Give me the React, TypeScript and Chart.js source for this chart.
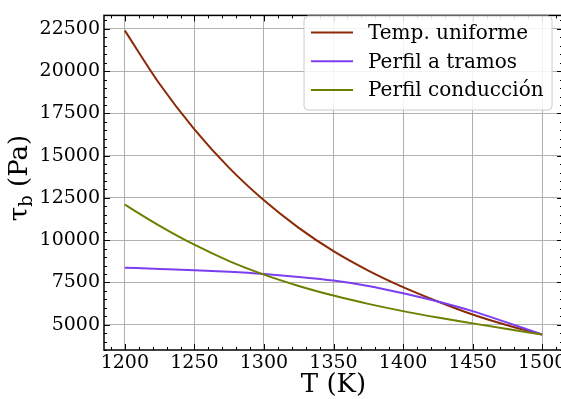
import React, { useEffect, useRef } from "react";
import { Chart, registerables } from "chart.js";

Chart.register(...registerables);

const temps = [1200, 1225, 1250, 1275, 1300, 1325, 1350, 1375, 1400, 1425, 1450, 1475, 1500];
const uniforme = [22400, 19240, 16560, 14280, 12360, 10730, 9350, 8200, 7220, 6370, 5600, 4960, 4410];
const tramos = [8370, 8300, 8225, 8125, 7995, 7825, 7610, 7290, 6860, 6370, 5800, 5120, 4420];
const conduccion = [12100, 10850, 9730, 8760, 7960, 7290, 6720, 6230, 5800, 5420, 5075, 4740, 4420];

const seriesLabels = ["Temp. uniforme", "Perfil a tramos", "Perfil conducción"];
const seriesColors = ["#8b2a05", "#7c3ff0", "#6e7f00"];

const xTicks = [1200, 1250, 1300, 1350, 1400, 1450, 1500];
const yTicks = [5000, 7500, 10000, 12500, 15000, 17500, 20000, 22500];

const FONT = "'DejaVu Serif', serif";

const ticksPlugin = {
  id: "inTicks",
  afterDraw(chart: any) {
    const ctx = chart.ctx;
    const a = chart.chartArea;
    const xs = chart.scales.x;
    const ys = chart.scales.y;
    ctx.save();
    ctx.strokeStyle = "#000";
    ctx.lineWidth = 1;
    const drawX = (v: number, len: number) => {
      const px = Math.round(xs.getPixelForValue(v)) + 0.5;
      ctx.beginPath();
      ctx.moveTo(px, a.bottom);
      ctx.lineTo(px, a.bottom - len);
      ctx.moveTo(px, a.top);
      ctx.lineTo(px, a.top + len);
      ctx.stroke();
    };
    const drawY = (v: number, len: number) => {
      const py = Math.round(ys.getPixelForValue(v)) + 0.5;
      ctx.beginPath();
      ctx.moveTo(a.left, py);
      ctx.lineTo(a.left + len, py);
      ctx.moveTo(a.right, py);
      ctx.lineTo(a.right - len, py);
      ctx.stroke();
    };
    for (let v = 1190; v <= 1510; v += 10) {
      if (v % 50 !== 0) drawX(v, 3);
    }
    xTicks.forEach((v) => drawX(v, 6));
    for (let v = 3500; v <= 23000; v += 500) {
      if (v % 2500 !== 0) drawY(v, 3);
    }
    yTicks.forEach((v) => drawY(v, 6));
    // spines
    ctx.lineWidth = 1.5;
    ctx.strokeRect(a.left, a.top, a.right - a.left, a.bottom - a.top);

    // legend
    const lx = 304, ly = 16, lw = 248, lh = 94, r = 4;
    ctx.fillStyle = "rgba(255,255,255,0.85)";
    ctx.strokeStyle = "#cccccc";
    ctx.lineWidth = 1;
    ctx.beginPath();
    ctx.moveTo(lx + r, ly);
    ctx.lineTo(lx + lw - r, ly);
    ctx.arcTo(lx + lw, ly, lx + lw, ly + r, r);
    ctx.lineTo(lx + lw, ly + lh - r);
    ctx.arcTo(lx + lw, ly + lh, lx + lw - r, ly + lh, r);
    ctx.lineTo(lx + r, ly + lh);
    ctx.arcTo(lx, ly + lh, lx, ly + lh - r, r);
    ctx.lineTo(lx, ly + r);
    ctx.arcTo(lx, ly, lx + r, ly, r);
    ctx.closePath();
    ctx.fill();
    ctx.stroke();
    ctx.font = "20px " + FONT;
    ctx.textBaseline = "middle";
    ctx.textAlign = "left";
    chart.data.datasets.forEach((ds: any, i: number) => {
      const y = 32.5 + i * 28.8;
      ctx.strokeStyle = ds.borderColor;
      ctx.lineWidth = 2;
      ctx.beginPath();
      ctx.moveTo(311, y);
      ctx.lineTo(353, y);
      ctx.stroke();
      ctx.fillStyle = "#000";
      ctx.fillText(ds.label, 368, y + 1);
    });

    // y title with subscript
    ctx.save();
    ctx.translate(27, 178);
    ctx.rotate(-Math.PI / 2);
    ctx.fillStyle = "#000";
    ctx.textBaseline = "alphabetic";
    const big = "26px " + FONT;
    const small = "18px " + FONT;
    ctx.font = big;
    const w1 = ctx.measureText("τ").width;
    ctx.font = small;
    const w2 = ctx.measureText("b").width;
    ctx.font = big;
    const w3 = ctx.measureText(" (Pa)").width;
    let x0 = -(w1 + w2 + w3) / 2;
    ctx.fillText("τ", x0, 0);
    ctx.font = small;
    ctx.fillText("b", x0 + w1, 5);
    ctx.font = big;
    ctx.fillText(" (Pa)", x0 + w1 + w2, 0);
    ctx.restore();

    // x title
    ctx.font = "26px " + FONT;
    ctx.textAlign = "center";
    ctx.textBaseline = "alphabetic";
    ctx.fillStyle = "#000";
    ctx.fillText("T (K)", (a.left + a.right) / 2, 392);
    ctx.restore();
  },
};

export default function App() {
  const ref = useRef<HTMLCanvasElement>(null);
  useEffect(() => {
    if (!ref.current) return;
    const mk = (data: number[], i: number) => ({
      label: seriesLabels[i],
      data: temps.map((t, k) => ({ x: t, y: data[k] })),
      borderColor: seriesColors[i],
      backgroundColor: seriesColors[i],
      borderWidth: 2,
      pointRadius: 0,
      cubicInterpolationMode: "monotone" as const,
      order: 2 - i,
    });
    const chart = new Chart(ref.current, {
      type: "line",
      data: {
        datasets: [mk(uniforme, 0), mk(tramos, 1), mk(conduccion, 2)],
      },
      options: {
        responsive: false,
        animation: false,
        devicePixelRatio: 1,
        layout: { padding: { top: 6, right: 7, bottom: 0, left: 0 } },
        plugins: { legend: { display: false }, tooltip: { enabled: false } },
        scales: {
          x: {
            type: "linear",
            min: 1185,
            max: 1515,
            afterBuildTicks: (s: any) => {
              s.ticks = xTicks.map((v) => ({ value: v }));
            },
            afterFit: (s: any) => {
              s.height = 49;
              s.paddingLeft = 0;
              s.paddingRight = 0;
            },
            grid: { color: "#b0b0b0", lineWidth: 1, drawTicks: false },
            border: { display: false },
            ticks: {
              color: "#000",
              font: { family: FONT, size: 19 },
              padding: 2,
              maxRotation: 0,
              autoSkip: false,
              callback: (v: any) => String(v),
            },
          },
          y: {
            type: "linear",
            min: 3500,
            max: 23300,
            afterBuildTicks: (s: any) => {
              s.ticks = yTicks.map((v) => ({ value: v }));
            },
            afterFit: (s: any) => {
              s.width = 104;
            },
            grid: { color: "#b0b0b0", lineWidth: 1, drawTicks: false },
            border: { display: false },
            ticks: {
              color: "#000",
              font: { family: FONT, size: 19 },
              padding: 4,
              autoSkip: false,
              callback: (v: any) => String(v),
            },
          },
        },
      },
      plugins: [ticksPlugin],
    });
    return () => chart.destroy();
  }, []);
  return (
    <div style={{ position: "fixed", left: 0, top: 0, width: 561, height: 399, overflow: "hidden", background: "#fff" }}>
      <canvas ref={ref} width={570} height={399} style={{ display: "block" }} />
    </div>
  );
}
